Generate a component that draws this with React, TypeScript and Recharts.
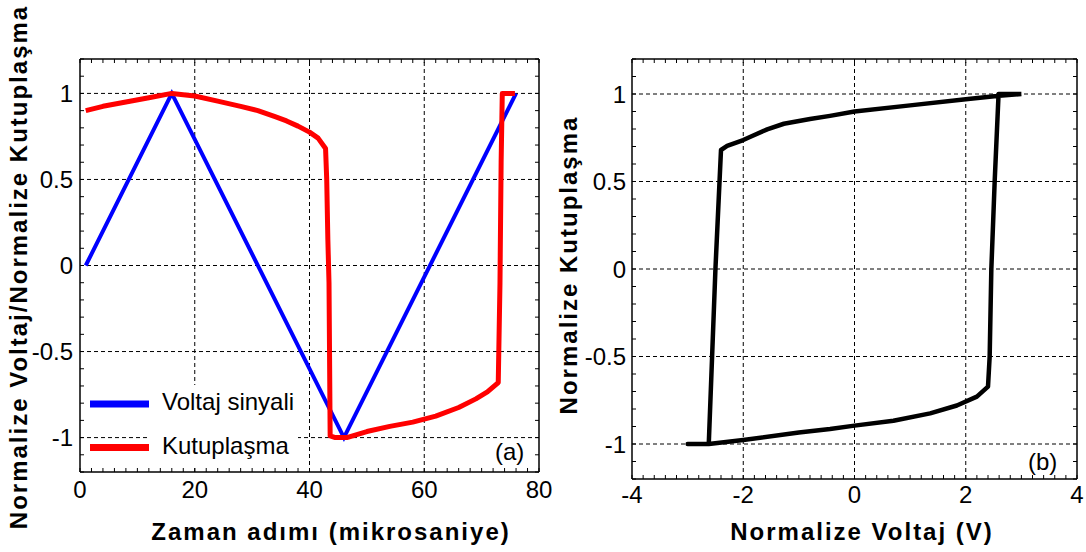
import { LineChart, Line, XAxis, YAxis, ReferenceLine } from "recharts";

// (a) zaman alanı: voltaj sinyali
const voltajT = [1, 16, 46, 76];
const voltajY = [0, 1, -1, 1];

// (a) zaman alanı: kutuplaşma
const kutupT = [1, 4, 8, 12, 16, 20, 24, 28, 31, 34, 36, 38, 40, 41.5, 42.8, 43.0, 43.2, 43.4, 43.6, 44.5, 46.5, 50, 54, 58, 62, 66, 69, 71, 72.9, 73.2, 73.4, 73.6, 75.8];
const kutupY = [0.9, 0.925, 0.95, 0.975, 1.0, 0.985, 0.955, 0.925, 0.9, 0.865, 0.84, 0.81, 0.775, 0.74, 0.68, 0.5, 0.15, -0.1, -0.99, -1.0, -1.0, -0.965, -0.935, -0.91, -0.875, -0.825, -0.775, -0.735, -0.68, -0.1, 0.6, 1.0, 1.0];

// (b) histerezis döngüsü
const loopV = [3.0, 2.6, 2.0, 1.0, 0, -0.44, -0.8, -1.27, -1.57, -1.87, -2.0, -2.29, -2.4, -2.5, -2.56, -2.62, -3.0, -2.62, -2.0, -1.0, -0.44, 0, 0.7, 1.36, 1.84, 2.2, 2.4, 2.43, 2.46, 2.52, 2.59, 3.0];
const loopP = [1.0, 0.99, 0.97, 0.935, 0.9, 0.875, 0.857, 0.83, 0.798, 0.756, 0.737, 0.703, 0.68, 0.0, -0.5, -1.0, -1.0, -1.0, -0.977, -0.934, -0.914, -0.895, -0.867, -0.825, -0.78, -0.729, -0.672, -0.5, 0.0, 0.5, 1.0, 1.0];

const leftXLabels = [0, 20, 40, 60, 80];
const yLabels = [-1, -0.5, 0, 0.5, 1];
const rightXLabels = [-4, -2, 0, 2, 4];
const leftXGrid = [20, 40, 60];
const rightXGrid = [-2, 0, 2];

const SERIES_VOLT = "Voltaj sinyali";
const SERIES_POL = "Kutuplaşma";

const voltajData = voltajT.map((t, i) => ({ t, y: voltajY[i] }));
const kutupData = kutupT.map((t, i) => ({ t, y: kutupY[i] }));
const loopData = loopV.map((v, i) => ({ v, p: loopP[i] }));

const steps = (from: number, to: number, step: number) => {
  const out: number[] = [];
  for (let v = from; v <= to + 1e-9; v += step) out.push(Math.round(v * 100) / 100);
  return out;
};
const leftXMinor = steps(0, 80, 2);
const rightXMinor = steps(-4, 4, 0.2);
const yMinor = steps(-1.2, 1.2, 0.1);

const FONT = "Arial, 'Liberation Sans', Helvetica, sans-serif";
const AXIS = { stroke: "#000", strokeWidth: 1.5 };

type Side = "bottom" | "top" | "left" | "right";

function tickMark(side: Side, labels: number[], gap: number) {
  return (props: any) => {
    const { x, y, payload } = props;
    const v = payload.value as number;
    const L = 4;
    let line;
    if (side === "bottom") line = <line x1={x} y1={y} x2={x} y2={y - L} />;
    else if (side === "top") line = <line x1={x} y1={y} x2={x} y2={y + L} />;
    else if (side === "left") line = <line x1={x} y1={y} x2={x + L} y2={y} />;
    else line = <line x1={x} y1={y} x2={x - L} y2={y} />;
    const lab = labels.find((m) => Math.abs(m - v) < 1e-6);
    return (
      <g>
        <g stroke="#000" strokeWidth={1}>{line}</g>
        {lab !== undefined && side === "bottom" && (
          <text x={x} y={y + gap} textAnchor="middle" fontSize={24} fontFamily={FONT} fill="#000">
            {String(lab)}
          </text>
        )}
        {lab !== undefined && side === "left" && (
          <text x={x - gap} y={y} dy="0.36em" textAnchor="end" fontSize={24} fontFamily={FONT} fill="#000">
            {String(lab)}
          </text>
        )}
      </g>
    );
  };
}

const grid = { stroke: "#000", strokeWidth: 1, strokeDasharray: "4 3" };

function LeftChart() {
  return (
    <LineChart width={560} height={552} margin={{ top: 58, right: 20, bottom: 79, left: 79 }}>
      <XAxis xAxisId="b" type="number" dataKey="t" domain={[0, 80]} allowDataOverflow ticks={leftXMinor} interval={0} height={1} tickSize={0} tickMargin={0} tickLine={false} axisLine={AXIS} tick={tickMark("bottom", leftXLabels, 26)} />
      <XAxis xAxisId="t" orientation="top" type="number" dataKey="t" domain={[0, 80]} allowDataOverflow ticks={leftXMinor} interval={0} height={1} tickSize={0} tickMargin={0} tickLine={false} axisLine={AXIS} tick={tickMark("top", [], 0)} />
      <YAxis yAxisId="l" type="number" domain={[-1.2, 1.2]} allowDataOverflow ticks={yMinor} interval={0} width={1} tickSize={0} tickMargin={0} tickLine={false} axisLine={AXIS} tick={tickMark("left", yLabels, 7)} />
      <YAxis yAxisId="r" orientation="right" type="number" domain={[-1.2, 1.2]} allowDataOverflow ticks={yMinor} interval={0} width={1} tickSize={0} tickMargin={0} tickLine={false} axisLine={AXIS} tick={tickMark("right", [], 0)} />
      {leftXGrid.map((v) => (
        <ReferenceLine key={"gx" + v} xAxisId="b" yAxisId="l" x={v} {...grid} />
      ))}
      {yLabels.map((v) => (
        <ReferenceLine key={"gy" + v} xAxisId="b" yAxisId="l" y={v} {...grid} />
      ))}
      <Line xAxisId="b" yAxisId="l" name={SERIES_VOLT} data={voltajData} dataKey="y" type="linear" stroke="#0000ff" strokeWidth={4} dot={false} isAnimationActive={false} />
      <Line xAxisId="b" yAxisId="l" name={SERIES_POL} data={kutupData} dataKey="y" type="linear" stroke="#ff0000" strokeWidth={5} strokeLinejoin="round" dot={false} isAnimationActive={false} />
    </LineChart>
  );
}

function RightChart() {
  return (
    <LineChart width={526} height={552} data={loopData} margin={{ top: 58, right: 8, bottom: 72, left: 71 }}>
      <XAxis xAxisId="b" type="number" dataKey="v" domain={[-4, 4]} allowDataOverflow ticks={rightXMinor} interval={0} height={1} tickSize={0} tickMargin={0} tickLine={false} axisLine={AXIS} tick={tickMark("bottom", rightXLabels, 24)} />
      <XAxis xAxisId="t" orientation="top" type="number" dataKey="v" domain={[-4, 4]} allowDataOverflow ticks={rightXMinor} interval={0} height={1} tickSize={0} tickMargin={0} tickLine={false} axisLine={AXIS} tick={tickMark("top", [], 0)} />
      <YAxis yAxisId="l" type="number" domain={[-1.2, 1.2]} allowDataOverflow ticks={yMinor} interval={0} width={1} tickSize={0} tickMargin={0} tickLine={false} axisLine={AXIS} tick={tickMark("left", yLabels, 6)} />
      <YAxis yAxisId="r" orientation="right" type="number" domain={[-1.2, 1.2]} allowDataOverflow ticks={yMinor} interval={0} width={1} tickSize={0} tickMargin={0} tickLine={false} axisLine={AXIS} tick={tickMark("right", [], 0)} />
      {rightXGrid.map((v) => (
        <ReferenceLine key={"gx" + v} xAxisId="b" yAxisId="l" x={v} {...grid} />
      ))}
      {yLabels.map((v) => (
        <ReferenceLine key={"gy" + v} xAxisId="b" yAxisId="l" y={v} {...grid} />
      ))}
      <Line xAxisId="b" yAxisId="l" dataKey="p" type="linear" stroke="#000" strokeWidth={4.5} strokeLinejoin="round" dot={false} isAnimationActive={false} />
    </LineChart>
  );
}

export default function App() {
  const title = { fontFamily: FONT, fontSize: 24, fontWeight: 700, letterSpacing: 2, fill: "#000" } as const;
  const plain = { fontFamily: FONT, fontSize: 24, fill: "#000" } as const;
  return (
    <div style={{ position: "absolute", left: 0, top: 0, width: 1086, height: 552, background: "#fff", overflow: "hidden" }}>
      <div style={{ position: "absolute", left: 0, top: 0 }}>
        <LeftChart />
      </div>
      <div style={{ position: "absolute", left: 560, top: 0 }}>
        <RightChart />
      </div>
      <svg width={1086} height={552} style={{ position: "absolute", left: 0, top: 0, pointerEvents: "none" }}>
        <text x={27} y={267} transform="rotate(-90 27 267)" textAnchor="middle" {...title}>
          Normalize Voltaj/Normalize Kutuplaşma
        </text>
        <text x={331} y={540} textAnchor="middle" {...title}>
          Zaman adımı (mikrosaniye)
        </text>
        <text x={577} y={265} transform="rotate(-90 577 265)" textAnchor="middle" {...title}>
          Normalize Kutuplaşma
        </text>
        <text x={862} y={540} textAnchor="middle" {...title}>
          Normalize Voltaj (V)
        </text>
        <rect x={150} y={385} width={148} height={82} fill="#fff" />
        <rect x={90} y={400.5} width={59} height={7} fill="#0000ff" />
        <rect x={90} y={444} width={59} height={7} fill="#ff0000" />
        <text x={162} y={410} {...plain}>{SERIES_VOLT}</text>
        <text x={162} y={454} {...plain}>{SERIES_POL}</text>
        <text x={495} y={460} {...plain}>(a)</text>
        <text x={1028} y={470} {...plain}>(b)</text>
      </svg>
    </div>
  );
}
